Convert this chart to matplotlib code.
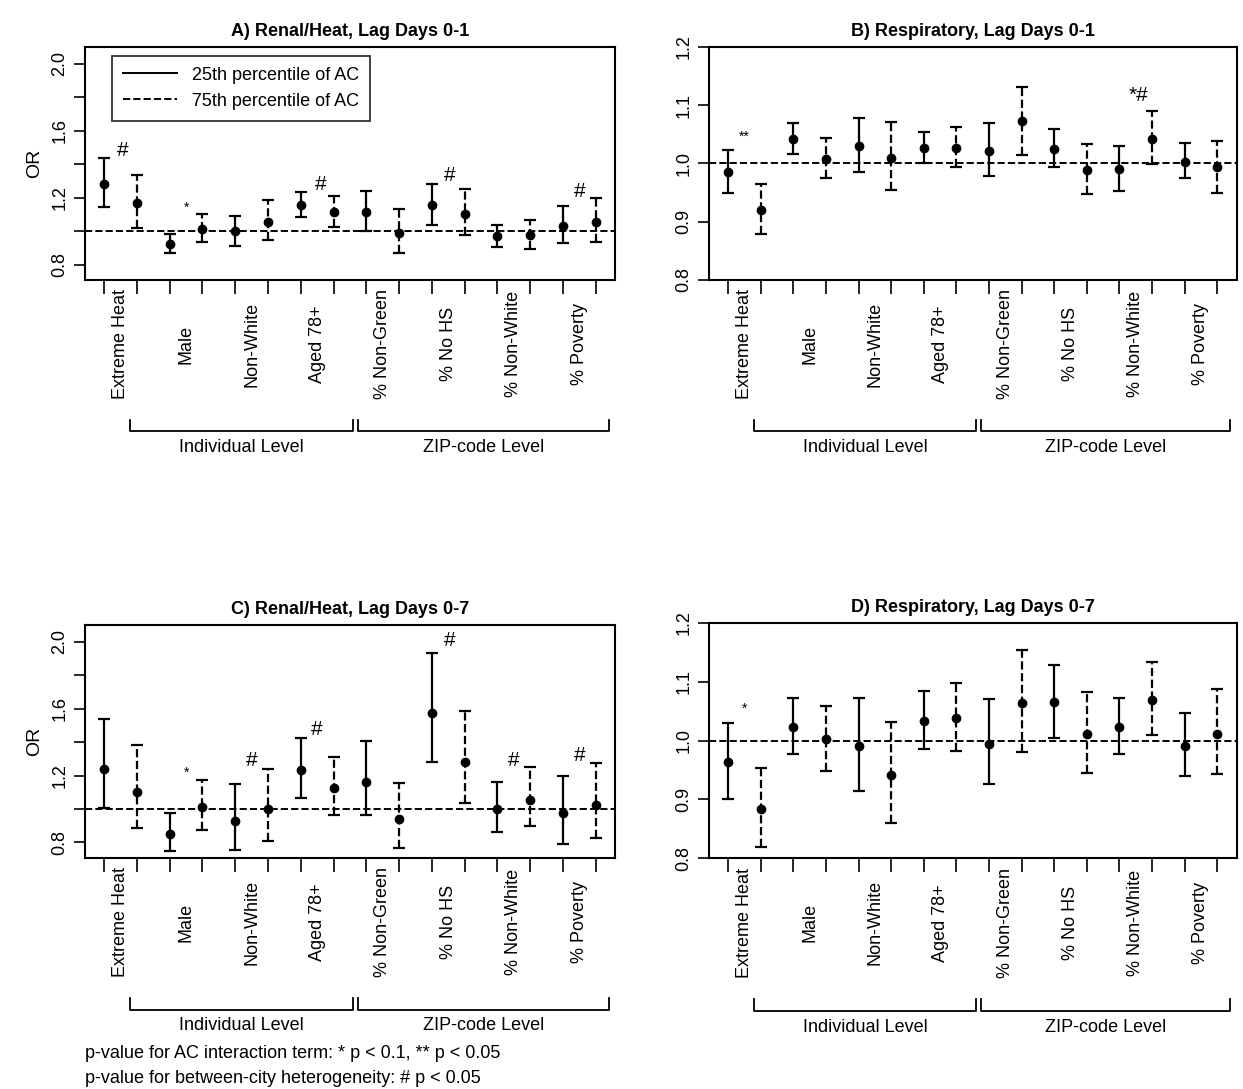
import matplotlib

matplotlib.use("Agg")
import matplotlib.pyplot as plt
import numpy as np

plt.rcParams["font.family"] = ["Liberation Sans", "DejaVu Sans"]

groups = ["Extreme Heat", "Male", "Non-White", "Aged 78+",
          "% Non-Green", "% No HS", "% Non-White", "% Poverty"]

# each list: 16 values, pairs of (25th pct AC, 75th pct AC) per group
a_or = [1.284, 1.168, 0.924, 1.014, 1.00, 1.058, 1.158, 1.112,
        1.116, 0.99, 1.154, 1.104, 0.972, 0.98, 1.034, 1.056]
a_lo = [1.144, 1.02, 0.872, 0.936, 0.914, 0.946, 1.086, 1.028,
        1.004, 0.872, 1.04, 0.976, 0.906, 0.896, 0.932, 0.936]
a_hi = [1.436, 1.336, 0.986, 1.10, 1.09, 1.188, 1.232, 1.208,
        1.238, 1.13, 1.284, 1.252, 1.04, 1.068, 1.152, 1.20]

b_or = [0.985, 0.92, 1.042, 1.008, 1.03, 1.01, 1.027, 1.026,
        1.022, 1.072, 1.025, 0.989, 0.99, 1.042, 1.003, 0.993]
b_lo = [0.949, 0.878, 1.016, 0.975, 0.985, 0.954, 1.001, 0.993,
        0.978, 1.015, 0.993, 0.947, 0.953, 0.999, 0.974, 0.949]
b_hi = [1.023, 0.964, 1.069, 1.043, 1.078, 1.071, 1.054, 1.062,
        1.069, 1.131, 1.059, 1.033, 1.029, 1.09, 1.035, 1.039]

c_or = [1.24, 1.104, 0.852, 1.012, 0.93, 0.998, 1.234, 1.124,
        1.162, 0.94, 1.572, 1.28, 0.998, 1.056, 0.974, 1.024]
c_lo = [1.006, 0.886, 0.75, 0.876, 0.756, 0.806, 1.068, 0.966,
        0.962, 0.766, 1.28, 1.038, 0.86, 0.90, 0.79, 0.826]
c_hi = [1.536, 1.38, 0.974, 1.172, 1.152, 1.24, 1.426, 1.312,
        1.408, 1.158, 1.936, 1.586, 1.16, 1.25, 1.20, 1.276]

d_or = [0.963, 0.883, 1.023, 1.003, 0.99, 0.941, 1.034, 1.038,
        0.994, 1.063, 1.065, 1.011, 1.023, 1.069, 0.991, 1.011]
d_lo = [0.90, 0.819, 0.977, 0.949, 0.915, 0.859, 0.986, 0.983,
        0.926, 0.981, 1.005, 0.944, 0.977, 1.009, 0.939, 0.943]
d_hi = [1.03, 0.953, 1.072, 1.058, 1.072, 1.031, 1.084, 1.097,
        1.071, 1.154, 1.129, 1.083, 1.072, 1.134, 1.047, 1.087]

# (x, y, text) significance marks
a_marks = [(1.55, 1.48, "#"), (3.5, 1.14, "*"), (7.6, 1.28, "#"),
           (11.55, 1.33, "#"), (15.5, 1.24, "#")]
b_marks = [(1.5, 1.046, "**"), (13.6, 1.116, "*#")]
c_marks = [(3.5, 1.216, "*"), (5.5, 1.29, "#"), (7.5, 1.476, "#"),
           (11.55, 2.01, "#"), (13.5, 1.29, "#"), (15.5, 1.32, "#")]
d_marks = [(1.5, 1.054, "*")]

x = np.arange(1, 17)

fig = plt.figure(figsize=(12.43, 10.89), dpi=100)


def panel(rect, title, orv, lo, hi, marks, ylim, yticks, minor, ylabel, legend):
    ax = fig.add_axes(rect)
    for i in range(16):
        ls = "-" if i % 2 == 0 else "--"
        eb = ax.errorbar(x[i], orv[i], yerr=[[orv[i] - lo[i]], [hi[i] - orv[i]]],
                         fmt="o", color="black", ms=6, capsize=4, elinewidth=1.6,
                         capthick=1.6)
        eb[2][0].set_linestyle(ls)
    ax.axhline(1.0, color="black", ls="--", lw=1.4)
    for mx, my, t in marks:
        fs = 10 if t in ("*", "**") else 15
        ax.text(mx, my, t, ha="center", va="center", fontsize=fs)
    ax.set_xlim(0.4, 16.6)
    ax.set_ylim(*ylim)
    ax.set_xticks(x)
    ax.set_xticklabels([])
    ax.set_yticks(yticks)
    ax.set_yticks(minor, minor=True)
    ax.set_yticklabels([f"{v:.1f}" for v in yticks], rotation=90, va="center")
    ax.tick_params(which="both", length=8, width=1.2, labelsize=13)
    ax.tick_params(axis="x", length=10)
    for s in ax.spines.values():
        s.set_linewidth(1.5)
    ax.set_title(title, fontsize=13, fontweight="bold", pad=8)
    if ylabel:
        ax.set_ylabel("OR", fontsize=14, labelpad=6)
    tr = ax.get_xaxis_transform()
    for k, g in enumerate(groups):
        ax.text(1.5 + 2 * k, -0.275, g, rotation=90, ha="center", va="center",
                fontsize=13, transform=tr)
    # brackets
    for x0, x1, lab in [(1.8, 8.6, "Individual Level"), (8.75, 16.4, "ZIP-code Level")]:
        yb, yt = -0.65, -0.60
        ax.plot([x0, x0, x1, x1], [yt, yb, yb, yt], color="black", lw=1.3,
                transform=tr, clip_on=False)
        ax.text((x0 + x1) / 2, -0.72, lab, ha="center", va="center",
                fontsize=13, transform=tr)
    if legend:
        h1, = ax.plot([], [], color="black", lw=1.4)
        h2, = ax.plot([], [], color="black", lw=1.4, ls="--")
        leg = ax.legend([h1, h2], ["25th percentile of AC", "75th percentile of AC"],
                        loc="upper left", bbox_to_anchor=(0.035, 1.0), fontsize=13,
                        frameon=True, fancybox=False, edgecolor="black",
                        handlelength=3, borderpad=0.6)
        leg.get_frame().set_linewidth(1.3)
    return ax


panel([0.068, 0.743, 0.427, 0.214], "A) Renal/Heat, Lag Days 0-1",
      a_or, a_lo, a_hi, a_marks, (0.71, 2.1), [0.8, 1.2, 1.6, 2.0],
      [1.0, 1.4, 1.8], True, True)
panel([0.570, 0.743, 0.425, 0.214], "B) Respiratory, Lag Days 0-1",
      b_or, b_lo, b_hi, b_marks, (0.8, 1.2), [0.8, 0.9, 1.0, 1.1, 1.2],
      [], False, False)
panel([0.068, 0.212, 0.427, 0.214], "C) Renal/Heat, Lag Days 0-7",
      c_or, c_lo, c_hi, c_marks, (0.706, 2.1), [0.8, 1.2, 1.6, 2.0],
      [1.0, 1.4, 1.8], True, False)
panel([0.570, 0.212, 0.425, 0.216], "D) Respiratory, Lag Days 0-7",
      d_or, d_lo, d_hi, d_marks, (0.8, 1.2), [0.8, 0.9, 1.0, 1.1, 1.2],
      [], False, False)

fig.text(0.068, 0.033, "p-value for AC interaction term: * p < 0.1, ** p < 0.05",
         fontsize=13, va="center")
fig.text(0.068, 0.010, "p-value for between-city heterogeneity: # p < 0.05",
         fontsize=13, va="center")

fig.savefig("out.png", dpi=100)
